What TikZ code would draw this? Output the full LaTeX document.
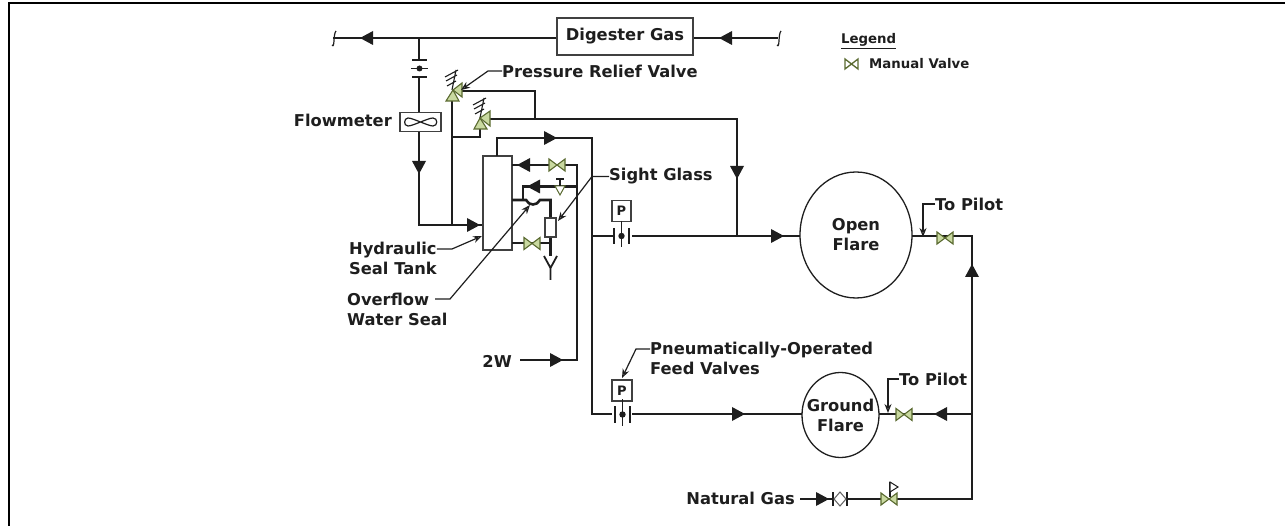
\documentclass[tikz,border=0pt]{standalone}
\usepackage{fontspec}
\setmainfont{DejaVu Sans}
\usetikzlibrary{arrows.meta,shapes.geometric}
\definecolor{ink}{HTML}{1E1E1E}
\definecolor{valvefill}{HTML}{C9D9A0}
\definecolor{valveline}{HTML}{5A6A30}
\tikzset{
  pipe/.style={draw=ink,line width=2.6pt},
  thinline/.style={draw=ink,line width=1.2pt},
  lead/.style={draw=ink,line width=1.2pt,-{Stealth[length=9pt,width=7pt,open,fill=white]}},
  lab/.style={font=\bfseries\fontsize{16.3}{20}\selectfont,text=ink,inner sep=0pt,align=left},
  tip/.style={fill=ink,draw=none},
  vshape/.style={draw=valveline,fill=valvefill,line width=1.1pt},
  boxn/.style={draw=ink!85,line width=1.5pt,fill=white,inner sep=0pt},
  flare/.style={draw=ink,line width=1.3pt,ellipse,inner sep=0pt},
  pv/.pic={\path[vshape] (-8,-6)--(8,6)--(8,-6)--(-8,6)--cycle;},
  tl/.pic={\path[tip] (-6,0)--(7,-7)--(7,7)--cycle;},
  tr/.pic={\path[tip] (7,0)--(-6,-7)--(-6,7)--cycle;},
  td/.pic={\path[tip] (0,7)--(-7,-6)--(7,-6)--cycle;},
  tu/.pic={\path[tip] (0,-7)--(-7,6)--(7,6)--cycle;},
  vbar/.pic={
    \path[fill=white] (-6,-3.5) rectangle (7,3.5);
    \draw[thinline,line width=1.5pt] (-7,-8)--(-7,8) (8,-8)--(8,8);
    \fill[ink] (0.5,0) circle (3.2);
    \draw[thinline,line width=1.5pt] (0.5,-15)--(0.5,11);
  }
}
\begin{document}
\begin{tikzpicture}[x=1pt,y=-1pt]
\useasboundingbox (0,0) rectangle (1285,526);
\fill[black] (8,2) rectangle (1285,4.2);
\fill[black] (8,2) rectangle (10.2,526);

% named anchors
\node[boxn,lab,minimum width=136pt,minimum height=37pt,align=center] (dg) at (625,36.5) {Digester Gas};
\coordinate (brkL) at (333,38);
\coordinate (brkR) at (778,38);
\node[boxn,minimum width=41pt,minimum height=19pt] (fm) at (420.5,122) {};
\node[boxn,minimum width=29pt,minimum height=94pt] (tank) at (497.5,203) {};
\node[boxn,minimum width=11pt,minimum height=19pt] (sg) at (550.5,227.5) {};
\node[boxn,lab,minimum width=19pt,minimum height=21pt,align=center,font=\bfseries\fontsize{13}{14}\selectfont] (p1) at (621.5,211) {P};
\node[boxn,lab,minimum width=20pt,minimum height=21pt,align=center,font=\bfseries\fontsize{13}{14}\selectfont] (p2) at (622,390.5) {P};
\node[flare,minimum width=112pt,minimum height=126pt] (of) at (856,235) {};
\node[lab,align=center] (oft) at (of.center) {Open\\Flare};
\node[flare,minimum width=77pt,minimum height=85pt] (gf) at (840.5,415) {};
\node[lab,align=center] (gft) at (gf.center) {Ground\\Flare};

% digester gas main
\draw[pipe] (brkL) -- (dg.west |- brkL);
\draw[pipe] (dg.east |- brkR) -- (brkR);
\draw[thinline] (brkL)+(3,-7) .. controls +(-3,3) and +(3,4) .. +(-1,7);
\draw[thinline] (brkR)+(3,-7) .. controls +(-3,3) and +(3,4) .. +(-1,7);
\pic at (366,38) {tl};
\pic at (725,38) {tl};

% flowmeter branch
\draw[pipe] (419,38) -- (419,60);
\draw[thinline,line width=1.5pt] (412,60)--(427,60) (412,77)--(427,77) (411,68.5)--(428,68.5);
\fill[ink] (419.5,68.5) circle (3);
\draw[pipe] (419,77) -- (419,112);
\draw[thinline] (408,118) .. controls (404,118) and (403,126) .. (408,126) .. controls (413,126) and (428,118) .. (433,118) .. controls (438,118) and (438,126) .. (433,126) .. controls (428,126) and (413,118) .. (408,118) -- cycle;
\draw[pipe] (419,132) -- (419,225) -- (482,225);
\pic at (419,167) {td};
\pic at (473,225) {tr};

% relief valves
\draw[pipe] (452,225) -- (452,100);
\draw[pipe] (452,137) -- (480,137) -- (480,127);
\draw[pipe] (458,91) -- (535,91) -- (535,119);
\draw[pipe] (486,119) -- (737,119) -- (737,236);
\pic at (737,172) {td};
\draw[ink,line width=1.1pt] (452,90)--(456,70) (445,77)--(458,70) (446,81)--(457,75) (447,86)--(456,81);
\draw[ink,line width=1.1pt] (480,118)--(484,98) (473,105)--(486,98) (474,109)--(485,103) (475,114)--(484,109);
\path[vshape] (446,101)--(453,90)--(459,101)--cycle;
\path[vshape] (453,90)--(462,83)--(462,97)--cycle;
\path[vshape] (474,129)--(480,118)--(487,129)--cycle;
\path[vshape] (480,118)--(490,111)--(490,126)--cycle;

% tank connections
\draw[pipe] (497,156) -- (497,138) -- (592,138) -- (592,414) -- (612,414);
\pic at (550,138) {tr};
\draw[pipe] (592,236) -- (613,236);
\draw[pipe] (632,236) -- (800,236);
\pic at (777,236) {tr};
\pic at (621,236) {vbar};
\draw[pipe] (632,414) -- (802,414);
\pic at (738,414) {tr};
\pic at (622,414.5) {vbar};

\draw[pipe] (512,165) -- (577,165) -- (577,360) -- (520,360);
\pic at (523,165) {tl};
\pic at (557,165) {pv};
\pic at (556,360) {tr};
\draw[pipe] (577,186.5) -- (523,186.5) -- (523,200);
\pic at (533,186.5) {tl};
\path[draw=valveline,fill=white,line width=1pt] (555,186)--(565,186)--(560,195)--cycle;
\draw[ink,line width=1.1pt] (560,186)--(560,179) (556,179)--(564,179);
\draw[pipe] (512,200) -- (526,200) .. controls (529,206) and (537,206) .. (540,200) -- (550.5,200) -- (sg.north);
\draw[pipe] (512,243) -- (550.5,243);
\pic at (532,243.5) {pv};
\draw[pipe] (sg.south) -- (550.5,256);
\draw[thinline,line width=1.8pt] (550.5,280) -- (550.5,268) -- (544,256) (550.5,268) -- (557,256);

% right side
\draw[pipe] (912,236) -- (972,236) -- (972,499) -- (800,499);
\pic at (972,271) {tu};
\pic at (945,238) {pv};
\draw[pipe] (879,414) -- (972,414);
\pic at (904,414.5) {pv};
\pic at (940,414) {tl};
\pic at (822,499) {tr};
\path[fill=white] (834,495) rectangle (846,503);
\draw[thinline] (833,492)--(833,506) (847,492)--(847,506);
\path[draw=ink!70,fill=white,line width=1pt] (840,492)--(846,499)--(840,506)--(834,499)--cycle;
\pic at (889,499) {pv};
\draw[thinline] (890,497)--(890,482);
\path[draw=ink,fill=white,line width=1pt] (890,482)--(898,487)--(890,492)--cycle;

% labels
\node[lab,anchor=west] (lprv) at (502,71) {Pressure Relief Valve};
\node[lab,anchor=east] (lfm) at (392,120) {Flowmeter};
\node[lab,anchor=west] (lsg) at (609,176.5) {Sight Glass};
\node[lab,anchor=west] (lhy) at (349,258.5) {Hydraulic\\Seal Tank};
\node[lab,anchor=west] (lov) at (347,309) {Overflow\\Water Seal};
\node[lab,anchor=east] (l2w) at (512,361) {2W};
\node[lab,anchor=west] (ltp1) at (935,204) {To Pilot};
\node[lab,anchor=west] (ltp2) at (899,379) {To Pilot};
\node[lab,anchor=west] (lpn) at (650,358.5) {Pneumatically-Operated\\Feed Valves};
\node[lab,anchor=east] (lng) at (795,498) {Natural Gas};
\node[lab,anchor=west,font=\bfseries\fontsize{13.3}{14}\selectfont] (lleg) at (841,41) {\underline{Legend}};
\node[lab,anchor=west,font=\bfseries\fontsize{13.3}{14}\selectfont] (lmv) at (869,64) {Manual Valve};
\path[draw=valveline,fill=white,line width=1.3pt] (845,59)--(858,69)--(858,59)--(845,69)--cycle;

% leaders
\coordinate (ovs) at (435,299);
\draw[lead] (lprv.west) -- (488,71) -- (461,90);
\draw[lead] (lhy.east |- 0,249) -- (452,249) -- (482,236);
\draw[lead] (ovs) -- (450,299) -- (530,205);
\draw[lead] (lsg.west) -- (592,176.5) -- (558,221);
\draw[lead] (ltp1.west) -- (923,204) -- (923,237);
\draw[lead] (ltp2.west) -- (888,379) -- (888,413);
\draw[lead] (lpn.west |- 0,349) -- (636,349) -- (622,378);
\end{tikzpicture}
\end{document}
